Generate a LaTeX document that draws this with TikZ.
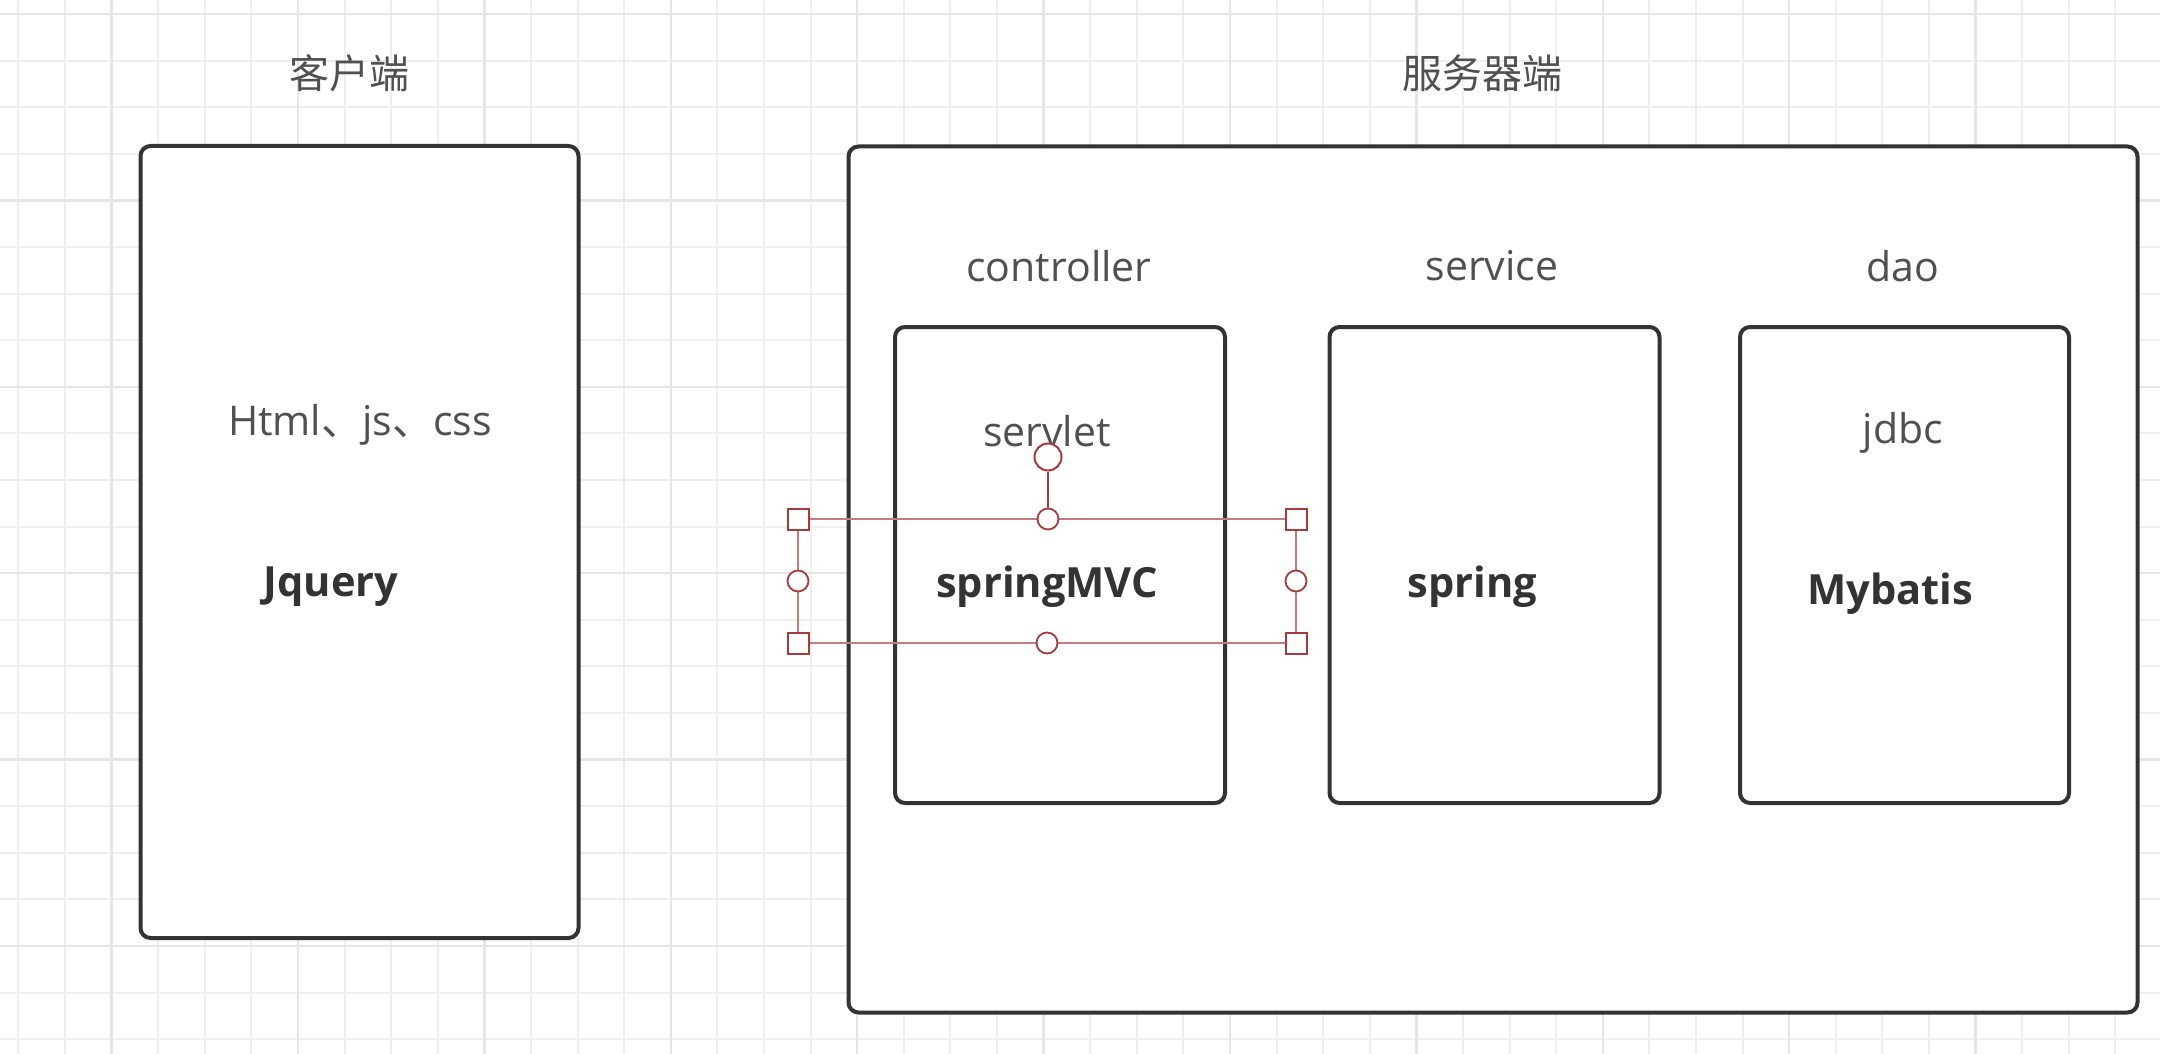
\documentclass[tikz,border=0pt]{standalone}
\usepackage{fontspec}
\setmainfont{Open Sans}
\newfontfamily\cjk{Noto Sans CJK SC}
\definecolor{boxc}{HTML}{333333}
\definecolor{txtc}{HTML}{505050}
\definecolor{boldc}{HTML}{333333}
\definecolor{gridminor}{HTML}{EFEFEF}
\definecolor{gridmajor}{HTML}{E6E6E6}
\definecolor{selc}{HTML}{A83A3A}
\definecolor{sell}{HTML}{C47C7C}
\tikzset{
  box/.style={draw=boxc, line width=2pt, rounded corners=5pt, fill=white, inner sep=0pt, rectangle},
  lbl/.style={text=txtc, font=\fontsize{20.5}{24}\selectfont, inner sep=0pt},
  blbl/.style={text=boldc, font=\fontsize{20.8}{24}\selectfont\bfseries, inner sep=0pt},
  cjklbl/.style={text=txtc, font=\cjk\fontsize{20}{24}\selectfont, inner sep=0pt},
  hsq/.style={draw=selc, line width=1pt, fill=white, rectangle, minimum size=10.5pt, inner sep=0pt},
  hci/.style={draw=selc, line width=0.9pt, fill=white, circle, minimum size=10.5pt, inner sep=0pt},
  hrot/.style={draw=selc, line width=1pt, fill=white, circle, minimum size=13.5pt, inner sep=0pt},
  selline/.style={draw=sell, line width=0.6pt},
  rotline/.style={draw=selc, line width=1pt},
}
\begin{document}
\begin{tikzpicture}[x=0.5pt, y=-0.5pt]
\useasboundingbox (0,0) rectangle (2160,1054);
\fill[white] (0,0) rectangle (2160,1054);
% grid
\foreach \i in {0,...,46} {
  \pgfmathsetmacro\xx{18.3+46.6*\i}
  \draw[gridminor, line width=1pt] (\xx,0) -- (\xx,1054);
}
\foreach \i in {0,...,22} {
  \pgfmathsetmacro\yy{14+46.6*\i}
  \draw[gridminor, line width=1pt] (0,\yy) -- (2160,\yy);
}
\foreach \i in {0,...,10} {
  \pgfmathsetmacro\xx{111.5+186.4*\i}
  \draw[gridmajor, line width=1.2pt] (\xx,0) -- (\xx,1054);
}
\foreach \i in {0,...,5} {
  \pgfmathsetmacro\yy{14+186.4*\i}
  \draw[gridmajor, line width=1.2pt] (0,\yy) -- (2160,\yy);
}

% titles
\node[cjklbl] (tclient) at (349,73) {客户端};
\node[cjklbl] (tserver) at (1482,73) {服务器端};

% client box
\node[box, minimum width=219pt, minimum height=396pt] (client) at (359.5,542) {};
\node[lbl] (html) at (360,425) {Html{\cjk 、}js{\cjk 、}css};
\node[blbl] (jquery) at (331,587) {Jquery};

% server box
\node[box, minimum width=644.5pt, minimum height=433pt] (server) at (1493,579.5) {};
\node[lbl] (tctrl) at (1059,266) {controller};
\node[lbl] (tsvc) at (1492,266) {service};
\node[lbl] (tdao) at (1903,266) {dao};

\node[box, minimum width=165pt, minimum height=238pt] (ctrl) at (1060,565) {};
\node[box, minimum width=165pt, minimum height=238pt] (svc) at (1494.5,565) {};
\node[box, minimum width=164.5pt, minimum height=238pt] (dao) at (1904.5,565) {};

\node[lbl] (servlet) at (1047,431) {servlet};
\node[lbl] (jdbc) at (1903,433) {jdbc};
\node[blbl] (smvc) at (1047,587) {springMVC};
\node[blbl] (spring) at (1472.5,587) {spring};
\node[blbl] (mybatis) at (1890,594) {Mybatis};

% selection handles
\coordinate (s1) at (798,519);
\coordinate (s2) at (1296,519);
\coordinate (s3) at (1296,643);
\coordinate (s4) at (798,643);
\draw[selline] (s1) -- (s2) -- (s3) -- (s4) -- cycle;
\node[hrot] (rot) at (1048,457) {};
\node[hci] (mtop) at (1048,519) {};
\draw[rotline] (rot) -- (mtop);
\node[hsq] (q1) at (s1) {};
\node[hsq] (q2) at (s2) {};
\node[hsq] (q3) at (s3) {};
\node[hsq] (q4) at (s4) {};
\node[hci] (mbot) at (1047,643) {};
\node[hci] (mleft) at (798,581) {};
\node[hci] (mright) at (1296,581) {};
\end{tikzpicture}
\end{document}
